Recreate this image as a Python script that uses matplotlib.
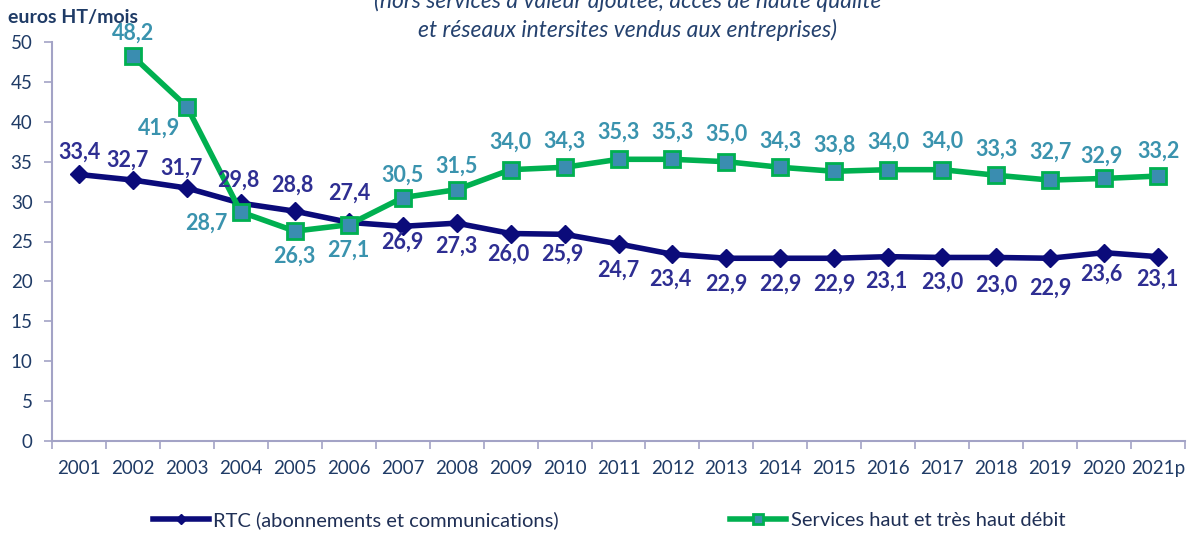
import numpy as np
import matplotlib.pyplot as plt
from matplotlib.ticker import FixedLocator

plt.rcParams['font.family'] = ['Lato', 'DejaVu Sans']

years = ['2001', '2002', '2003', '2004', '2005', '2006', '2007', '2008', '2009', '2010',
         '2011', '2012', '2013', '2014', '2015', '2016', '2017', '2018', '2019', '2020', '2021p']
rtc = [33.4, 32.7, 31.7, 29.8, 28.8, 27.4, 26.9, 27.3, 26.0, 25.9,
       24.7, 23.4, 22.9, 22.9, 22.9, 23.1, 23.0, 23.0, 22.9, 23.6, 23.1]
hd = [np.nan, 48.2, 41.9, 28.7, 26.3, 27.1, 30.5, 31.5, 34.0, 34.3,
      35.3, 35.3, 35.0, 34.3, 33.8, 34.0, 34.0, 33.3, 32.7, 32.9, 33.2]

# label offsets in pixels (dx, dy), dy positive = up
rtc_off = [(0, 22), (-5, 20), (-5, 20), (-3, 23), (-2, 26), (1, 29),
           (0, -16), (0, -23), (-2, -21), (-2, -20), (0, -26),
           (-2, -25), (0, -26), (0, -26), (0, -26), (-2, -25), (0, -25),
           (0, -28), (0, -30), (-3, -22), (-1, -23)]
hd_off = [None, (0, 23), (-28, -22), (-35, -11), (0, -25), (0, -25),
          (0, 22), (0, 23), (0, 27), (0, 26), (0, 27), (0, 27), (0, 27),
          (0, 26), (0, 26), (0, 27), (0, 28), (0, 26), (0, 28), (-3, 22), (0, 25)]

navy = '#0B0B7A'
rtc_txt = '#2E2E92'
green = '#00B050'
teal = '#3A8DB0'
hd_txt = '#3A93AE'
axis_col = '#A3A3C6'
tick_txt = '#1F3B66'

fig = plt.figure(figsize=(11.94, 5.36), dpi=100)
ax = fig.add_axes([52 / 1194, 1 - 441 / 536, (1185 - 52) / 1194, (441 - 42) / 536])

x = np.arange(len(years))
ax.plot(x, rtc, color=navy, lw=4, marker='D', ms=9, mfc=navy, mec=navy,
        label='RTC (abonnements et communications)', zorder=3)
ax.plot(x, hd, color=green, lw=4, marker='s', ms=12, mfc=teal, mec=green, mew=2,
        label='Services haut et très haut débit', zorder=4)

for i, v in enumerate(rtc):
    dx, dy = rtc_off[i]
    ax.annotate(f'{v:.1f}'.replace('.', ','), (x[i], v), xytext=(dx, dy),
                textcoords='offset pixels', ha='center', va='center',
                fontsize=15.5, fontweight='bold', color=rtc_txt, zorder=5)
for i, v in enumerate(hd):
    if np.isnan(v):
        continue
    dx, dy = hd_off[i]
    ax.annotate(f'{v:.1f}'.replace('.', ','), (x[i], v), xytext=(dx, dy),
                textcoords='offset pixels', ha='center', va='center',
                fontsize=15.5, fontweight='bold', color=hd_txt, zorder=5)

ax.set_xlim(-0.5, len(years) - 0.5)
ax.set_ylim(0, 50)
ax.set_yticks(np.arange(0, 51, 5))
ax.set_xticks(x)
ax.set_xticklabels(years)
ax.xaxis.set_minor_locator(FixedLocator(np.arange(-0.5, len(years), 1)))
ax.tick_params(axis='x', which='major', length=0, pad=14, labelsize=13.5, labelcolor=tick_txt)
ax.tick_params(axis='x', which='minor', length=6, color=axis_col, width=1.2)
ax.tick_params(axis='y', length=6, color=axis_col, width=1.2, pad=8, labelsize=13.5,
               labelcolor=tick_txt)
for s in ['top', 'right']:
    ax.spines[s].set_visible(False)
for s in ['left', 'bottom']:
    ax.spines[s].set_color(axis_col)
    ax.spines[s].set_linewidth(1.5)

fig.text(8 / 1194, 1 - 17 / 536, 'euros HT/mois', fontsize=14, fontweight='bold',
         color=tick_txt, va='center', ha='left')
fig.text(628 / 1194, 1 - 1 / 536, '(hors services à valeur ajoutée, accès de haute qualité',
         fontsize=16.5, style='italic', color='#24416E', va='center', ha='center')
fig.text(628 / 1194, 1 - 30 / 536, 'et réseaux intersites vendus aux entreprises)',
         fontsize=16.5, style='italic', color='#24416E', va='center', ha='center')

leg = fig.legend(loc='center', bbox_to_anchor=(0.51, 1 - 520 / 536), ncol=2, frameon=False,
                 fontsize=14.5, handlelength=2.8, columnspacing=8.5, handletextpad=0.2,
                 markerscale=0.6)
for t in leg.get_texts():
    t.set_color('#1F2F55')

fig.savefig('out.png', dpi=100)
